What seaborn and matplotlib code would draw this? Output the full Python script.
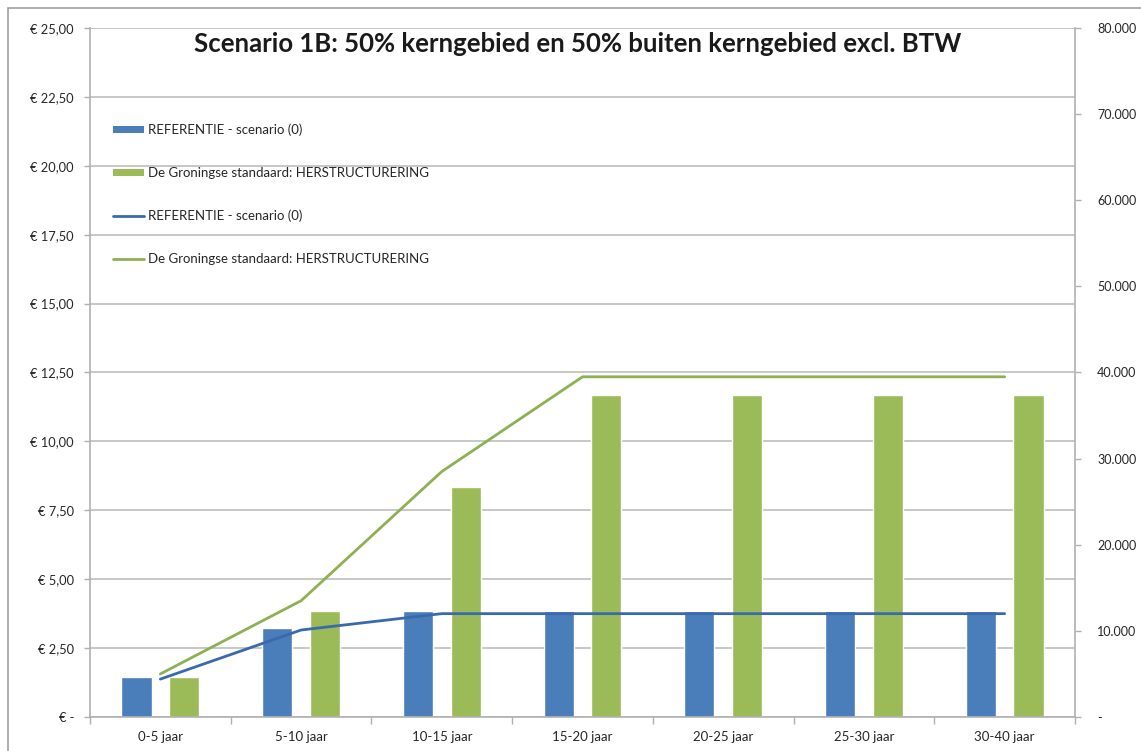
import matplotlib
matplotlib.use("Agg")
import matplotlib.pyplot as plt
from matplotlib.patches import Patch, Rectangle
from matplotlib.lines import Line2D
from matplotlib.ticker import FixedLocator, FuncFormatter
import numpy as np
import pandas as pd
import seaborn as sns

# Periods on the x axis
periods = ["0-5 jaar", "5-10 jaar", "10-15 jaar", "15-20 jaar",
           "20-25 jaar", "25-30 jaar", "30-40 jaar"]

# Bars (left axis, euro)
bar_referentie = [1.45, 3.23, 3.85, 3.85, 3.85, 3.85, 3.85]
bar_groningse = [1.45, 3.85, 8.35, 11.68, 11.68, 11.68, 11.68]

# Lines (right axis)
line_referentie = [4400, 10100, 12000, 12000, 12000, 12000, 12000]
line_groningse = [5000, 13500, 28500, 39500, 39500, 39500, 39500]

name_ref = "REFERENTIE - scenario (0)"
name_gs = "De Groningse standaard: HERSTRUCTURERING"

left_ticks = [0, 2.5, 5, 7.5, 10, 12.5, 15, 17.5, 20, 22.5, 25]
right_ticks = [0, 10000, 20000, 30000, 40000, 50000, 60000, 70000, 80000]

c_bar_blue = "#4a7ebb"
c_bar_green = "#9bbb59"
c_line_blue = "#3a69ad"
c_line_green = "#8db152"
c_grid = "#c3c3c3"
c_axis = "#b0b0b0"
c_text = "#262626"

sns.set_theme(style="white")
plt.rcParams["font.family"] = ["Lato", "DejaVu Sans"]

W, H = 1141, 751
fig = plt.figure(figsize=(W / 100, H / 100), dpi=100)
ax = fig.add_axes([90 / W, 1 - 717 / H, (1075 - 90) / W, (717 - 28) / H])

bars = pd.DataFrame({
    "periode": periods * 2,
    "waarde": bar_referentie + bar_groningse,
    "reeks": [name_ref] * len(periods) + [name_gs] * len(periods),
})
sns.barplot(data=bars, x="periode", y="waarde", hue="reeks",
            palette=[c_bar_blue, c_bar_green], width=0.68, gap=0.37,
            saturation=1, legend=False, ax=ax, zorder=2)

ax.set_xlim(-0.5, len(periods) - 0.5)
ax.set_ylim(0, 25)
ax.set_xlabel("")
ax.set_ylabel("")

# left axis: euro labels and grid
ax.yaxis.set_major_locator(FixedLocator(left_ticks))
def euro(v, pos):
    if abs(v) < 1e-9:
        return "€ -"
    return "€ " + f"{v:.2f}".replace(".", ",")
ax.yaxis.set_major_formatter(FuncFormatter(euro))
ax.grid(axis="y", color=c_grid, linewidth=1.3, zorder=0)
ax.set_axisbelow(True)
ax.tick_params(axis="y", which="major", length=4, width=1, color=c_axis,
               pad=7.5, labelsize=9.3, labelcolor=c_text, left=True)

# x axis: labels at centres, tick marks at category boundaries
ax.set_xticks(range(len(periods)))
ax.set_xticklabels(periods)
ax.xaxis.set_minor_locator(FixedLocator(np.arange(-0.5, len(periods), 1.0)))
ax.tick_params(axis="x", which="major", length=0, pad=10, labelsize=9.5,
               labelcolor=c_text)
ax.tick_params(axis="x", which="minor", length=5, width=1, color=c_axis,
               bottom=True)

for side in ["top", "right"]:
    ax.spines[side].set_visible(False)
for side in ["left", "bottom"]:
    ax.spines[side].set_color(c_axis)
    ax.spines[side].set_linewidth(1.2)

# right axis with the lines
ax2 = ax.twinx()
lines = pd.DataFrame({
    "pos": list(range(len(periods))) * 2,
    "waarde": line_referentie + line_groningse,
    "reeks": [name_ref] * len(periods) + [name_gs] * len(periods),
})
sns.lineplot(data=lines, x="pos", y="waarde", hue="reeks",
             palette=[c_line_blue, c_line_green], linewidth=2.0,
             legend=False, ax=ax2, zorder=3)
ax2.set_xlim(-0.5, len(periods) - 0.5)
ax2.set_ylim(0, 80000)
ax2.set_xlabel("")
ax2.set_ylabel("")
ax2.yaxis.set_major_locator(FixedLocator(right_ticks))
def thousands(v, pos):
    if abs(v) < 1e-9:
        return "-"
    return f"{int(round(v)):,}".replace(",", ".")
ax2.yaxis.set_major_formatter(FuncFormatter(thousands))
ax2.tick_params(axis="y", length=4, width=1, color=c_axis, pad=12,
                labelsize=9, labelcolor=c_text, right=True)
ax2.grid(False)
for side in ["top", "left", "bottom"]:
    ax2.spines[side].set_visible(False)
ax2.spines["right"].set_color(c_axis)
ax2.spines["right"].set_linewidth(1.2)

# legend
handles = [
    Patch(facecolor=c_bar_blue, edgecolor="none", label=name_ref),
    Patch(facecolor=c_bar_green, edgecolor="none", label=name_gs),
    Line2D([], [], color=c_line_blue, linewidth=2.0, label=name_ref),
    Line2D([], [], color=c_line_green, linewidth=2.0, label=name_gs),
]
leg = ax2.legend(handles=handles, loc="upper left",
                 bbox_to_anchor=(108 / W, 1 - 118 / H),
                 bbox_transform=fig.transFigure, frameon=False,
                 fontsize=9.5, handlelength=2.3, handleheight=0.45,
                 handletextpad=0.3, labelspacing=2.35, borderaxespad=0)
for t in leg.get_texts():
    t.set_color(c_text)

# title
fig.text(578 / W, 1 - 44 / H,
         "Scenario 1B: 50% kerngebied en 50% buiten kerngebied excl. BTW",
         ha="center", va="center", fontsize=18.5, fontweight="bold",
         color="#1a1a1a")

# chart border
fig.patches.append(Rectangle((8 / W, -0.05), 1.2, 1 - 8 / H + 0.05,
                             transform=fig.transFigure, fill=False,
                             edgecolor="#a0a0a0", linewidth=1.2))

fig.savefig("out.png", dpi=100, facecolor="white")
